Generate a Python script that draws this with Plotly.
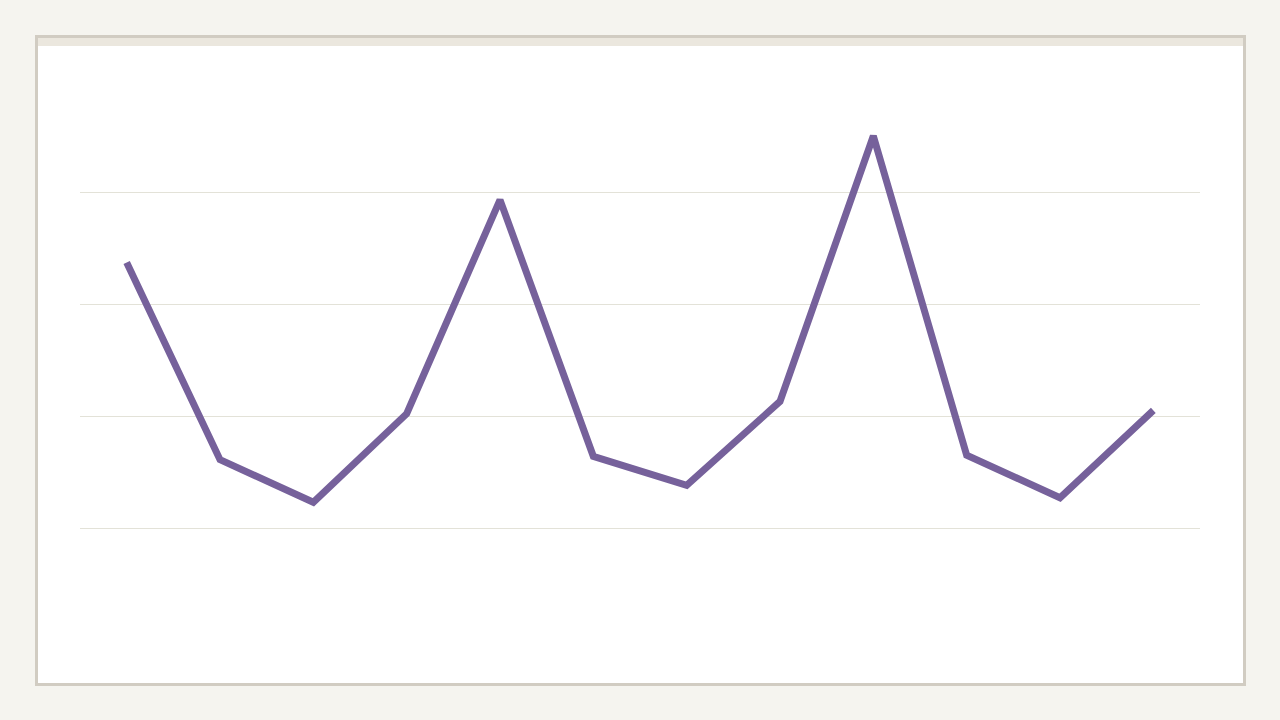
import plotly.graph_objects as go

categories = ["Jan", "Feb", "Mar", "Apr", "May", "Jun", "Jul", "Aug", "Sep", "Oct", "Nov", "Dec"]
values = [33.7, 16.1, 12.3, 20.2, 39.3, 16.4, 13.8, 21.3, 45.0, 16.5, 12.7, 20.5]
grid_vals = [10, 20, 30, 40]

W, H = 1280, 720
L, R, T, B = 80, 80, 80, 80
pw, ph = W - L - R, H - T - B

def px(x):
    return (x - L) / pw

def py(y):
    return (H - B - y) / ph

fig = go.Figure()
fig.add_trace(go.Scatter(
    x=categories, y=values, mode="lines",
    line=dict(color="#76619b", width=7),
    hoverinfo="skip", showlegend=False,
))

shapes = [
    dict(type="rect", xref="paper", yref="paper", layer="below",
         x0=px(36.5), x1=px(1244.5), y0=py(684.5), y1=py(36.5),
         fillcolor="#ffffff", line=dict(color="#d1ccc2", width=3)),
    dict(type="rect", xref="paper", yref="paper", layer="below",
         x0=px(38), x1=px(1243), y0=py(46), y1=py(38),
         fillcolor="#ebe7de", line=dict(width=0)),
]

fig.update_layout(
    width=W, height=H,
    margin=dict(l=L, r=R, t=T, b=B),
    paper_bgcolor="#f5f4ef",
    plot_bgcolor="rgba(0,0,0,0)",
    shapes=shapes,
    xaxis=dict(type="category", range=[-0.5, 11.5], showgrid=False,
               showticklabels=False, zeroline=False, showline=False, ticks=""),
    yaxis=dict(range=[0, 50], tickvals=grid_vals, showgrid=True,
               gridcolor="#e3e2d8", gridwidth=1, showticklabels=False,
               zeroline=False, showline=False, ticks=""),
)

fig.write_html(
    "out.html",
    config={"displayModeBar": False},
    post_script="document.body.style.margin='0';document.body.style.overflow='hidden';document.body.style.background='#f5f4ef';",
)
